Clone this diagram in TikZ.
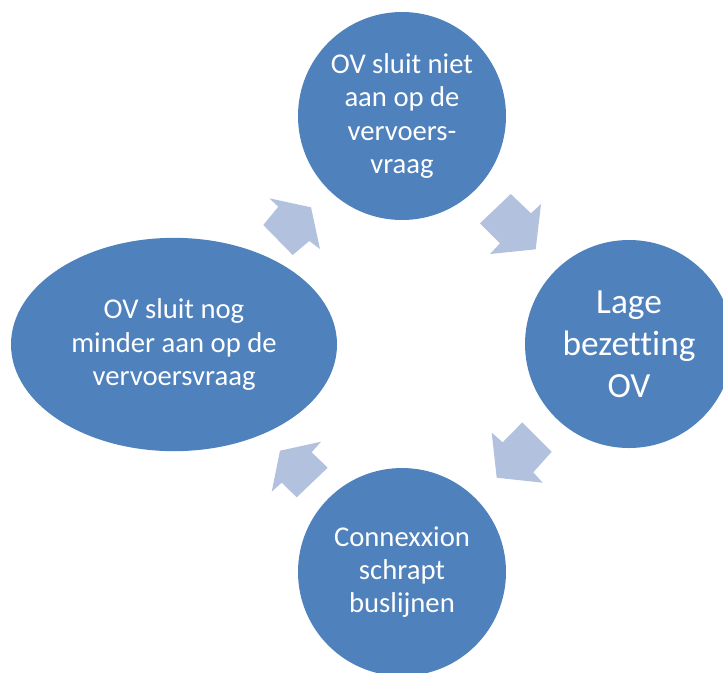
\documentclass[tikz,border=0pt]{standalone}
\usepackage{fontspec}
\setmainfont[Ligatures={NoCommon}]{Carlito}
\usetikzlibrary{shapes.geometric}
\definecolor{cycleblue}{HTML}{4F81BD}
\definecolor{arrowblue}{HTML}{B2C1DE}

\begin{document}
\begin{tikzpicture}[x=0.75pt,y=-0.75pt,
    stage/.style={circle, fill=cycleblue, text=white, align=center, inner sep=0pt, minimum size=156pt, font=\fontsize{21.5}{25}\selectfont},
    blockarrow/.style={fill=arrowblue}]
    \useasboundingbox (0,0) rectangle (723,672);
    \clip (0,0) rectangle (723,672);

    \node[stage](mismatch) at (402,116){OV sluit niet\\aan op de\\vervoers-\\vraag};
    \node[stage, font=\fontsize{26.5}{31.5}\selectfont](occupancy) at (629,344){Lage\\bezetting\\OV};
    \node[stage](cuts) at (402,572){Connexxion\\schrapt\\buslijnen};
    \node[stage, ellipse, minimum width=244.5pt, minimum height=160pt](worse) at (174,344.5){OV sluit nog\\minder aan op de\\vervoersvraag};

    \fill[blockarrow](269.3,198.3)--(311,207.3)--(320,249)--(309.3,241)--(292.7,255)--(263.3,225)--(278.3,206.7)--cycle;
    \fill[blockarrow](510.7,194)--(531,213.3)--(541,204)--(535.7,249.3)--(490,254)--(500,243.3)--(480,223.3)--cycle;
    \fill[blockarrow](522.3,422.3)--(551.7,451.7)--(533.3,472.3)--(542.7,482.7)--(496.7,477.7)--(491.7,432.7)--(502.7,442.3)--cycle;
    \fill[blockarrow](321,441.7)--(311.7,452.3)--(327.7,467.7)--(296.7,497.3)--(281.7,482.7)--(271.7,491.7)--(280,450.7)--cycle;
\end{tikzpicture}
\end{document}
